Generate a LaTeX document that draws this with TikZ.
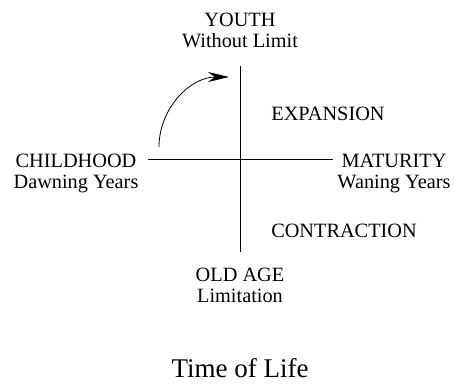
\documentclass[tikz,border=0pt]{standalone}
\usepackage{fontspec}
\setmainfont{Liberation Serif}
\usetikzlibrary{arrows.meta}
\begin{document}
\begin{tikzpicture}[x=1pt,y=-1pt,
  lbl/.style={font=\fontsize{20.3}{20.5}\selectfont, align=center, inner sep=0pt},
  axis/.style={line width=0.9pt},
  arr/.style={line width=0.8pt, -{Stealth[length=21pt,width=10pt]}}]
\useasboundingbox (0,0) rectangle (454,383);
\coordinate (vt) at (240,66);
\coordinate (vb) at (240,252);
\coordinate (hl) at (148,159);
\coordinate (hr) at (333,159);
\draw[axis] (vt) -- (vb);
\draw[axis] (hl) -- (hr);
\node[lbl, anchor=base] (youth) at (240,47) {YOUTH\\Without Limit};
\node[lbl, anchor=base] (child) at (76,188) {CHILDHOOD\\Dawning Years};
\node[lbl, anchor=base] (mat) at (394,188) {MATURITY\\Waning Years};
\node[lbl, anchor=base] (old) at (240,302) {OLD AGE\\Limitation};
\node[lbl, anchor=base] (exp) at (328,120) {EXPANSION};
\node[lbl, anchor=base] (con) at (344,237) {CONTRACTION};
\node[font=\fontsize{27}{28}\selectfont, inner sep=0pt, anchor=base] (title) at (240,377) {Time of Life};
\coordinate (as) at (159,147);
\coordinate (ae) at (229,77);
\draw[arr] (as) arc[start angle=180, end angle=270, radius=70];
\end{tikzpicture}
\end{document}
